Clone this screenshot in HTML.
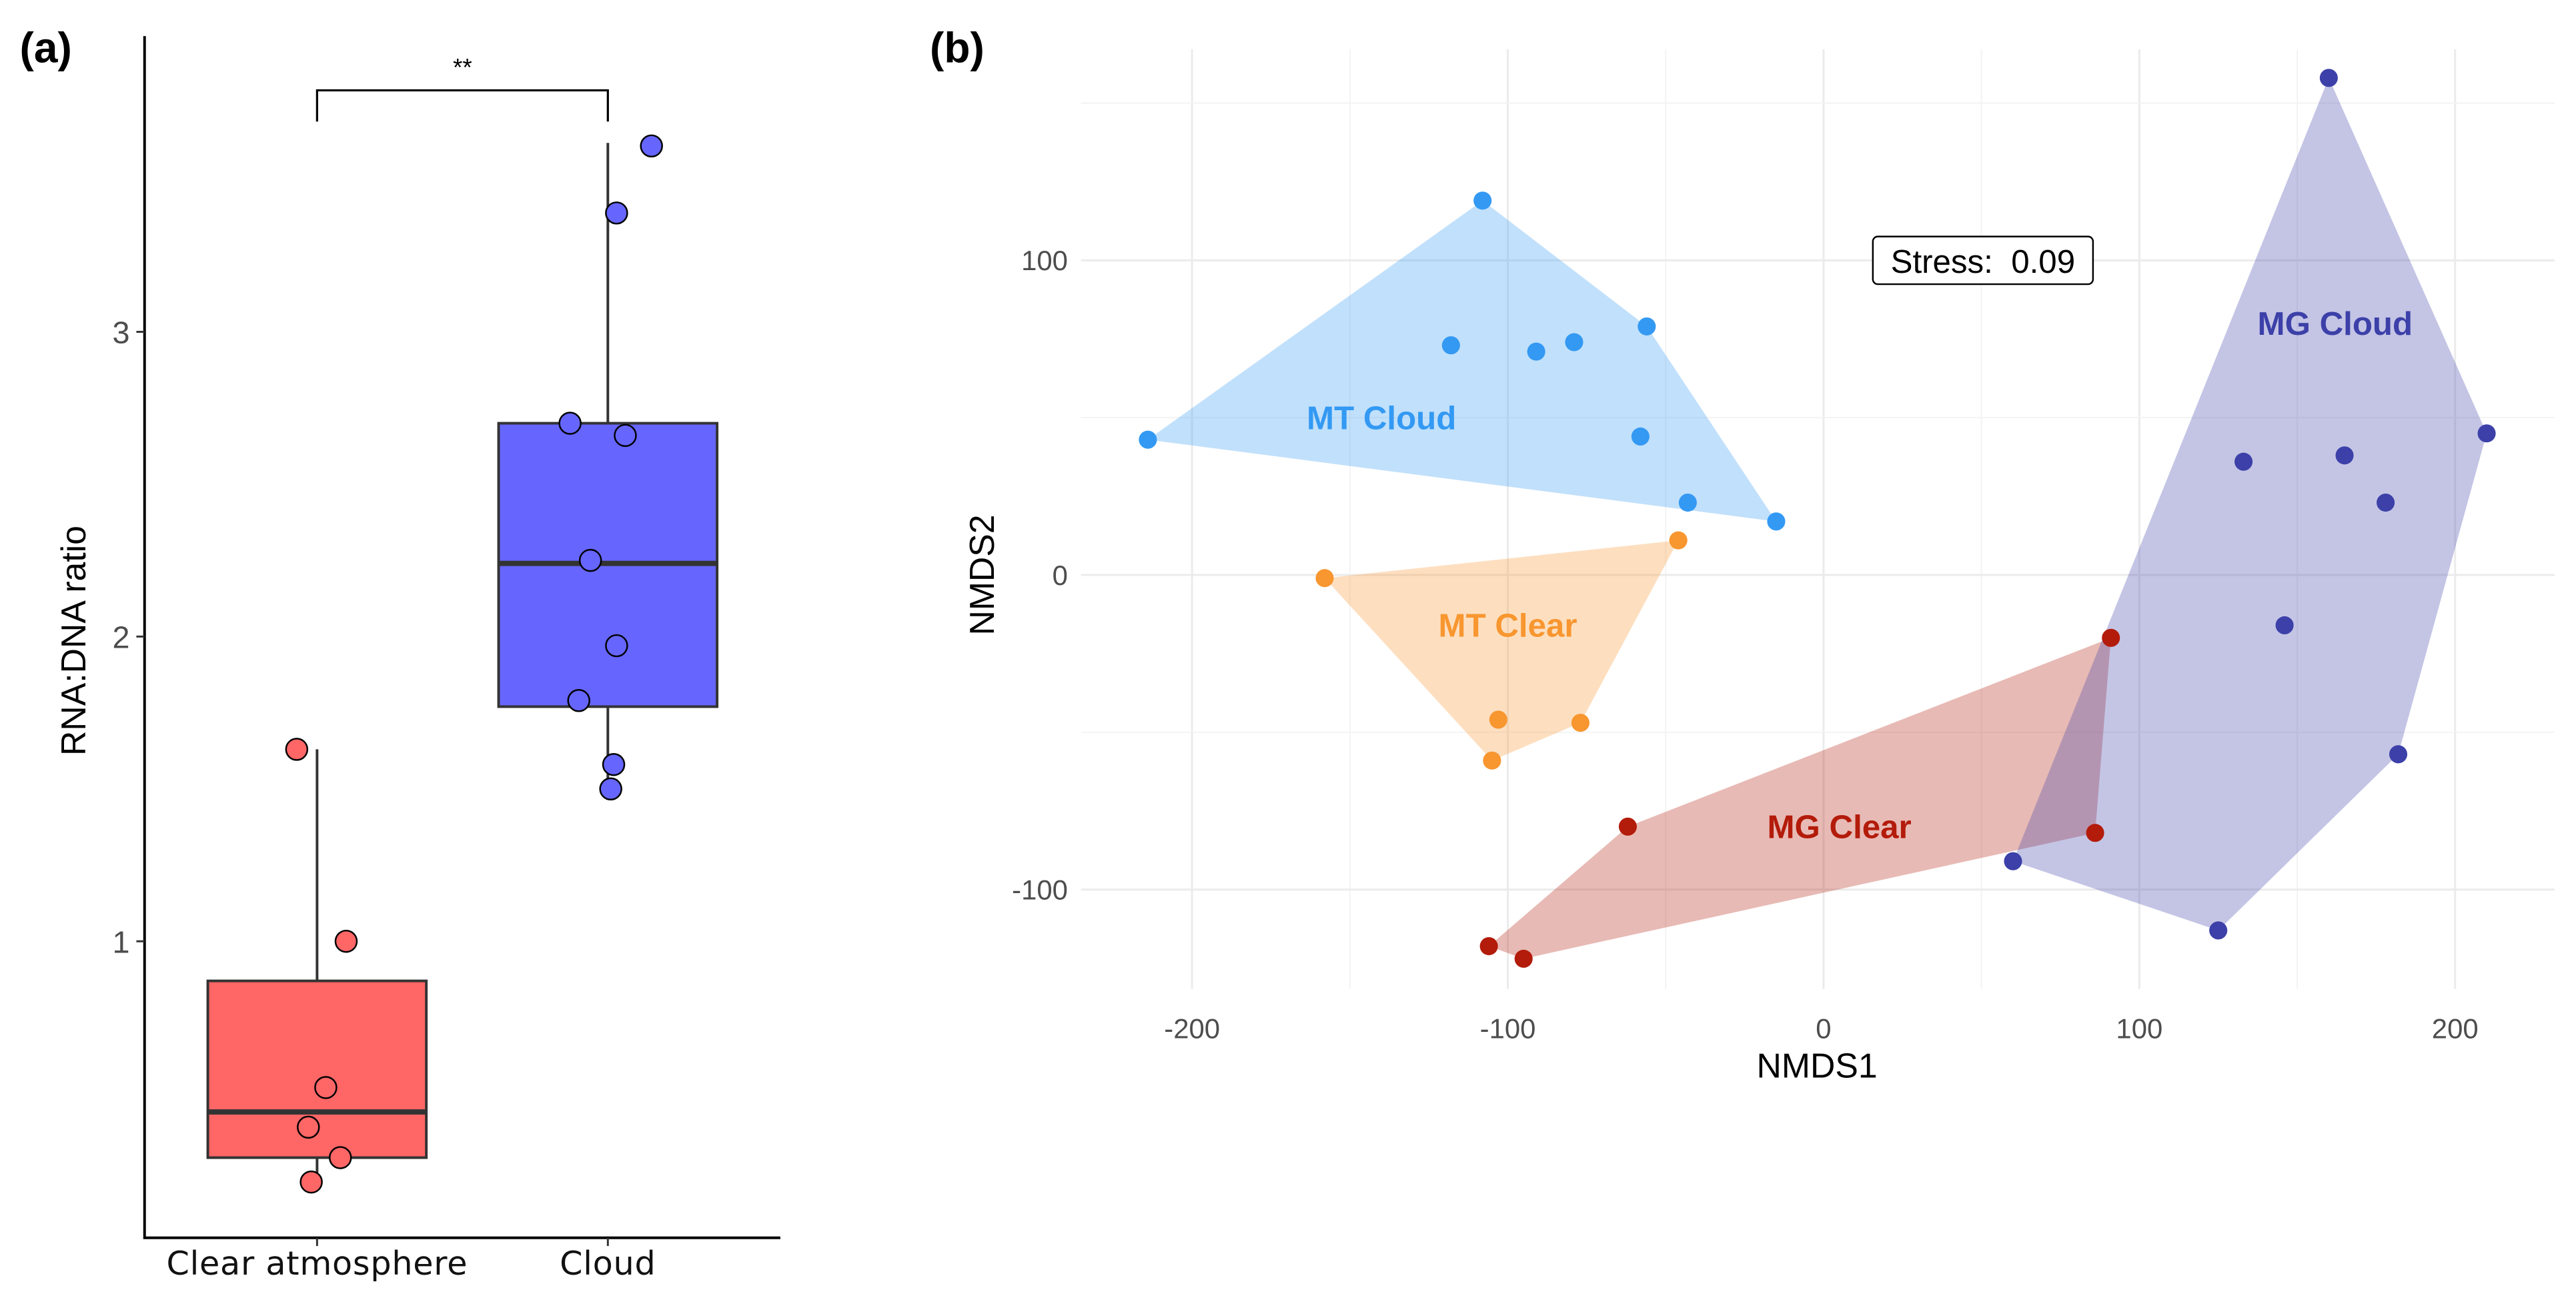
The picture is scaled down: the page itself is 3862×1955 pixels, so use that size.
<!DOCTYPE html>
<html><head><meta charset="utf-8"><style>
html,body{margin:0;padding:0;background:#fff;}
svg{display:block;font-family:"Liberation Sans",sans-serif;}
</style></head><body>
<svg id="fig" width="3862" height="1955" viewBox="0 0 1568 793.8" preserveAspectRatio="none">
<g id="pa"></g>
<g id="pb"></g>
</svg>
<script>
// ---------- Panel (a) data ----------
const boxCategories = ["Clear atmosphere", "Cloud"];
const boxQ1 = [0.29, 1.77];
const boxMedian = [0.44, 2.24];
const boxQ3 = [0.87, 2.70];
const whiskerLow = [0.21, 1.50];
const whiskerHigh = [1.63, 3.62];
const clearValues = [1.63, 1.00, 0.52, 0.39, 0.29, 0.21];
const clearJitter = [-0.07, 0.10, 0.03, -0.03, 0.08, -0.02];
const cloudValues = [3.61, 3.39, 2.70, 2.66, 2.25, 1.97, 1.79, 1.58, 1.50];
const cloudJitter = [0.15, 0.03, -0.13, 0.06, -0.06, 0.03, -0.10, 0.02, 0.01];
const yTicksA = [1, 2, 3];
const boxColors = ["#ff6666", "#6666ff"];

// ---------- Panel (b) data ----------
const groupNames = ["MT Cloud", "MT Clear", "MG Clear", "MG Cloud"];
const groupColors = ["#3399f3", "#f8962f", "#b31b0a", "#3c40a8"];
const mtCloudX = [-214, -108, -118, -91, -79, -56, -58, -43, -15];
const mtCloudY = [43, 119, 73, 71, 74, 79, 44, 23, 17];
const mtClearX = [-158, -46, -103, -77, -105];
const mtClearY = [-1, 11, -46, -47, -59];
const mgClearX = [91, 86, -62, -106, -95];
const mgClearY = [-20, -82, -80, -118, -122];
const mgCloudX = [160, 210, 133, 165, 178, 146, 182, 60, 125];
const mgCloudY = [158, 45, 36, 38, 23, -16, -57, -91, -113];
const labelX = [-140, -100, 5, 162];
const labelY = [50, -16, -80, 80];
const xTicksB = [-200, -100, 0, 100, 200];
const yTicksB = [-100, 0, 100];
const stressValue = "0.09";

const NS = "http://www.w3.org/2000/svg";
function mk(parent, tag, attrs, text) {
  const e = document.createElementNS(NS, tag);
  for (const k in attrs) e.setAttribute(k, attrs[k]);
  if (text !== undefined) e.textContent = text;
  parent.appendChild(e);
  return e;
}

// ===== Panel A =====
const pa = document.getElementById("pa");
const ya = v => 758.5 - v * 185.5;
const xa = i => 193 + i * 177;
const halfW = 66.5;

let t = mk(pa, "text", {x: 12, y: 38, "font-size": 26, "font-weight": "bold"}, "(a)");



let ax = mk(pa, "path", {d: "M88 22 V753.5 H475", fill: "none", stroke: "#000", "stroke-width": 1.6});



yTicksA.forEach(v => {
  const tk = mk(pa, "line", {x1: 83, x2: 88, y1: ya(v), y2: ya(v), stroke: "#333", "stroke-width": 1.2});
  
  
  const tl = mk(pa, "text", {x: 79, y: ya(v) + 7, "font-size": 19, fill: "#4d4d4d", "text-anchor": "end"}, String(v));
  
  
});
let yl = mk(pa, "text", {x: 0, y: 0, "font-size": 21, "text-anchor": "middle", transform: "translate(52,390) rotate(-90)"}, "RNA:DNA ratio");



boxCategories.forEach((c, i) => {
  const cx = xa(i);
  const tk = mk(pa, "line", {x1: cx, x2: cx, y1: 753.5, y2: 758.5, stroke: "#333", "stroke-width": 1.2});
  
  
  const tl = mk(pa, "text", {x: cx, y: 776, "font-size": 20, "text-anchor": "middle", fill: "#111", "font-family": "DejaVu Sans, sans-serif", "letter-spacing": "0.3"}, c);
  
  
  const wh = mk(pa, "line", {x1: cx, x2: cx, y1: ya(whiskerHigh[i]), y2: ya(whiskerLow[i]), stroke: "#333", "stroke-width": 1.6});
  
  
  const bx = mk(pa, "rect", {x: cx - halfW, y: ya(boxQ3[i]), width: halfW * 2, height: ya(boxQ1[i]) - ya(boxQ3[i]), fill: boxColors[i], stroke: "#333", "stroke-width": 1.6});
  
  
  const md = mk(pa, "line", {x1: cx - halfW, x2: cx + halfW, y1: ya(boxMedian[i]), y2: ya(boxMedian[i]), stroke: "#333", "stroke-width": 3.2});
  
  
});
function dotsA(vals, jit, idx) {
  vals.forEach((v, k) => {
    const d = mk(pa, "circle", {cx: xa(idx + jit[k]), cy: ya(v), r: 6.5, fill: boxColors[idx], stroke: "#000", "stroke-width": 1});
    
    
  });
}
dotsA(clearValues, clearJitter, 0);
dotsA(cloudValues, cloudJitter, 1);

let br = mk(pa, "path", {d: `M${xa(0)} 74 V55 H${xa(1)} V74`, fill: "none", stroke: "#000", "stroke-width": 1.3});


let st = mk(pa, "text", {x: (xa(0) + xa(1)) / 2, y: 46, "font-size": 15, "text-anchor": "middle"}, "**");



// ===== Panel B =====
const pb = document.getElementById("pb");
const xb = v => 1110 + v * 1.922;
const yb = v => 350 - v * 1.915;
const L = 658, R = 1555, T = 30, B = 602;

let tb = mk(pb, "text", {x: 566, y: 38, "font-size": 26, "font-weight": "bold"}, "(b)");



for (let v = -250; v <= 250; v += 50) {
  const x = xb(v); if (x < L || x > R) continue;
  const major = v % 100 === 0;
  const g = mk(pb, "line", {x1: x, x2: x, y1: T, y2: B, stroke: major ? "#ebebeb" : "#f3f3f3", "stroke-width": major ? 1.2 : 0.8});
  
  
}
for (let v = -150; v <= 200; v += 50) {
  const y = yb(v); if (y < T || y > B) continue;
  const major = v % 100 === 0;
  const g = mk(pb, "line", {x1: L, x2: R, y1: y, y2: y, stroke: major ? "#ebebeb" : "#f3f3f3", "stroke-width": major ? 1.2 : 0.8});
  
  
}
xTicksB.forEach(v => {
  const tl = mk(pb, "text", {x: xb(v), y: 632, "font-size": 17, fill: "#4d4d4d", "text-anchor": "middle"}, String(v));
  
  
});
yTicksB.forEach(v => {
  const tl = mk(pb, "text", {x: 650, y: yb(v) + 6, "font-size": 17, fill: "#4d4d4d", "text-anchor": "end"}, String(v));
  
  
});
let xt = mk(pb, "text", {x: 1106, y: 656, "font-size": 21, "text-anchor": "middle"}, "NMDS1");


let yt = mk(pb, "text", {x: 0, y: 0, "font-size": 21, "text-anchor": "middle", transform: "translate(605,350) rotate(-90)"}, "NMDS2");



function hull(xs, ys) {
  const p = xs.map((x, i) => [x, ys[i]]).sort((a, b) => a[0] - b[0] || a[1] - b[1]);
  const cr = (o, a, b) => (a[0] - o[0]) * (b[1] - o[1]) - (a[1] - o[1]) * (b[0] - o[0]);
  const lo = [], up = [];
  for (const q of p) { while (lo.length >= 2 && cr(lo[lo.length - 2], lo[lo.length - 1], q) <= 0) lo.pop(); lo.push(q); }
  for (const q of p.slice().reverse()) { while (up.length >= 2 && cr(up[up.length - 2], up[up.length - 1], q) <= 0) up.pop(); up.push(q); }
  return lo.slice(0, -1).concat(up.slice(0, -1));
}
const groupsX = [mtCloudX, mtClearX, mgClearX, mgCloudX];
const groupsY = [mtCloudY, mtClearY, mgClearY, mgCloudY];
const slug = ["mt-cloud", "mt-clear", "mg-clear", "mg-cloud"];
groupsX.forEach((gx, gi) => {
  const h = hull(gx, groupsY[gi]);
  const poly = mk(pb, "polygon", {points: h.map(q => xb(q[0]) + "," + yb(q[1])).join(" "), fill: groupColors[gi], "fill-opacity": 0.3});
  
  
});
groupsX.forEach((gx, gi) => {
  gx.forEach((x, k) => {
    const c = mk(pb, "circle", {cx: xb(x), cy: yb(groupsY[gi][k]), r: 5.5, fill: groupColors[gi]});
    
    
  });
  const lb = mk(pb, "text", {x: xb(labelX[gi]), y: yb(labelY[gi]) + 7, "font-size": 20, "font-weight": "bold", fill: groupColors[gi], "text-anchor": "middle"}, groupNames[gi]);
  
  
});
let sb = mk(pb, "rect", {x: 1140, y: 144, width: 134, height: 29, rx: 3, fill: "#fff", stroke: "#000", "stroke-width": 1});


let stt = mk(pb, "text", {x: 1207, y: 166, "font-size": 20, "text-anchor": "middle"}, "Stress:\u00a0 " + stressValue);


</script>
</body></html>
